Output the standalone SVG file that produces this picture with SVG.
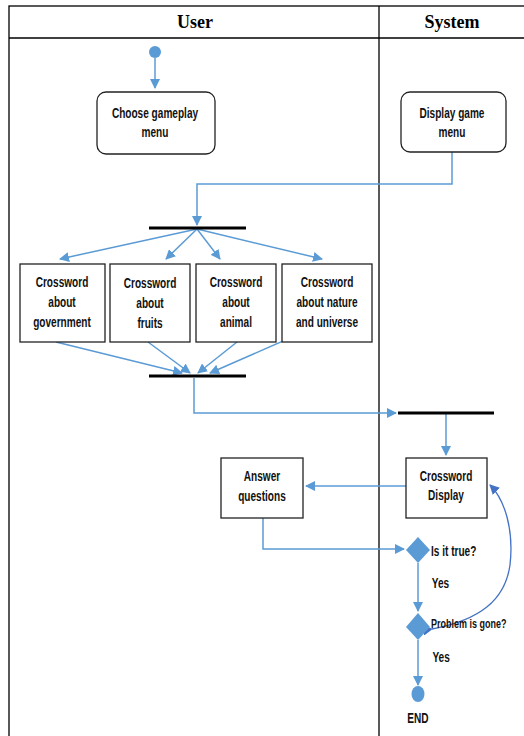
<svg xmlns="http://www.w3.org/2000/svg" width="524" height="736" viewBox="0 0 524 736">
<style>
.lane{fill:none;stroke:#000;stroke-width:1.3}
.hdr{font-family:"Liberation Serif","Times New Roman",serif;font-weight:bold;font-size:18px;text-anchor:middle}
.box{fill:#fff;stroke:#222;stroke-width:1.3}
.t{font-family:"Liberation Sans",Arial,sans-serif;font-weight:bold;font-size:14px;text-anchor:middle;fill:#111}
.tl{font-family:"Liberation Sans",Arial,sans-serif;font-weight:bold;font-size:14px;fill:#111}
.c{fill:none;stroke:#5b9bd5;stroke-width:1.5}
.bar{stroke:#000;stroke-width:3}
.node{fill:#5b9bd5}
</style>
<defs>
<marker id="ah" markerWidth="10" markerHeight="10" refX="9" refY="5" orient="auto" markerUnits="userSpaceOnUse">
<path d="M0,0 L10,5 L0,10 z" fill="#5b9bd5"/>
</marker>
<marker id="ah2" markerWidth="10" markerHeight="10" refX="9" refY="5" orient="auto" markerUnits="userSpaceOnUse">
<path d="M0,0 L10,5 L0,10 z" fill="#4472c4"/>
</marker>
</defs>
<g id="lanes">
<rect class="lane" x="9" y="6" width="520" height="740"/>
<line class="lane" x1="9" y1="38" x2="524" y2="38"/>
<line class="lane" x1="379" y1="6" x2="379" y2="736"/>
<text class="hdr" x="195" y="28">User</text>
<text class="hdr" x="452" y="28">System</text>
</g>
<g id="connectors">
<path class="c" d="M155,58 V88" marker-end="url(#ah)"/>
<path class="c" d="M452,152 V184 H197 V225" marker-end="url(#ah)"/>
<path class="c" d="M197,229 L60,259" marker-end="url(#ah)"/>
<path class="c" d="M197,229 L166,259" marker-end="url(#ah)"/>
<path class="c" d="M197,229 L220,259" marker-end="url(#ah)"/>
<path class="c" d="M197,229 L322,259" marker-end="url(#ah)"/>
<path class="c" d="M56,342 L182,373" marker-end="url(#ah)"/>
<path class="c" d="M148,342 L190,373" marker-end="url(#ah)"/>
<path class="c" d="M237,342 L198,373" marker-end="url(#ah)"/>
<path class="c" d="M340,316 L210,373" marker-end="url(#ah)"/>
<path class="c" d="M194,378 V413 H396" marker-end="url(#ah)"/>
<path class="c" d="M446,414 V455" marker-end="url(#ah)"/>
<path class="c" d="M406,486 H306" marker-end="url(#ah)"/>
<path class="c" d="M263,518 V549 H404" marker-end="url(#ah)"/>
<path class="c" d="M418,563 V611" marker-end="url(#ah)"/>
<path class="c" d="M418,640 V685" marker-end="url(#ah)"/>
<path d="M432,629 C480,620 505,600 510,565 C514,530 505,500 490,485" fill="none" stroke="#4472c4" stroke-width="1.3" marker-start="url(#ah2)" marker-end="url(#ah2)"/>
</g>
<g id="start"><circle class="node" cx="155" cy="52" r="6"/></g>
<g id="choose">
<rect class="box" x="97" y="92" width="118" height="62" rx="9"/>
<g transform="translate(155,0) scale(0.72,1) translate(-155,0)">
<text class="t" x="155" y="118">Choose gameplay</text>
<text class="t" x="155" y="137">menu</text>
</g>
</g>
<g id="display">
<rect class="box" x="401" y="92" width="105" height="60" rx="9"/>
<g transform="translate(452,0) scale(0.72,1) translate(-452,0)">
<text class="t" x="452" y="118">Display game</text>
<text class="t" x="452" y="137">menu</text>
</g>
</g>
<g id="fork"><line class="bar" x1="149" y1="228" x2="246" y2="228"/></g>
<g id="gov">
<rect class="box" x="20" y="264" width="85" height="78"/>
<g transform="translate(62,0) scale(0.72,1) translate(-62,0)">
<text class="t" x="62" y="287">Crossword</text>
<text class="t" x="62" y="307">about</text>
<text class="t" x="62" y="327">government</text>
</g>
</g>
<g id="fruits">
<rect class="box" x="110" y="264" width="80" height="78"/>
<g transform="translate(150,0) scale(0.72,1) translate(-150,0)">
<text class="t" x="150" y="288">Crossword</text>
<text class="t" x="150" y="308">about</text>
<text class="t" x="150" y="328">fruits</text>
</g>
</g>
<g id="animal">
<rect class="box" x="196" y="264" width="80" height="78"/>
<g transform="translate(236,0) scale(0.72,1) translate(-236,0)">
<text class="t" x="236" y="287">Crossword</text>
<text class="t" x="236" y="307">about</text>
<text class="t" x="236" y="327">animal</text>
</g>
</g>
<g id="nature">
<rect class="box" x="282" y="264" width="90" height="78"/>
<g transform="translate(327,0) scale(0.72,1) translate(-327,0)">
<text class="t" x="327" y="287">Crossword</text>
<text class="t" x="327" y="307">about nature</text>
<text class="t" x="327" y="327">and universe</text>
</g>
</g>
<g id="join"><line class="bar" x1="149" y1="376" x2="246" y2="376"/></g>
<g id="fork2"><line class="bar" x1="398" y1="413" x2="494" y2="413"/></g>
<g id="crossdisplay">
<rect class="box" x="406" y="458" width="81" height="60"/>
<g transform="translate(446,0) scale(0.72,1) translate(-446,0)">
<text class="t" x="446" y="481">Crossword</text>
<text class="t" x="446" y="500">Display</text>
</g>
</g>
<g id="answer">
<rect class="box" x="221" y="458" width="82" height="60"/>
<g transform="translate(262,0) scale(0.72,1) translate(-262,0)">
<text class="t" x="262" y="481">Answer</text>
<text class="t" x="262" y="501">questions</text>
</g>
</g>
<g id="istrue">
<path class="node" d="M418,537 L430,550 L418,563 L406,550 z"/>
<g transform="translate(431,0) scale(0.72,1) translate(-431,0)">
<text class="tl" x="431" y="556">Is it true?</text>
<text class="tl" x="432" y="588">Yes</text>
</g>
</g>
<g id="gone">
<path class="node" d="M418,613 L430,627 L418,640 L406,627 z"/>
<g transform="translate(431,0) scale(0.72,1) translate(-431,0)">
<text class="tl" x="431" y="628" style="font-size:12.5px">Problem is gone?</text>
<text class="tl" x="433" y="662">Yes</text>
</g>
</g>
<g id="end">
<ellipse class="node" cx="418" cy="694" rx="6.5" ry="8"/>
<g transform="translate(418,0) scale(0.72,1) translate(-418,0)">
<text class="t" x="418" y="723">END</text>
</g>
</g>
</svg>
